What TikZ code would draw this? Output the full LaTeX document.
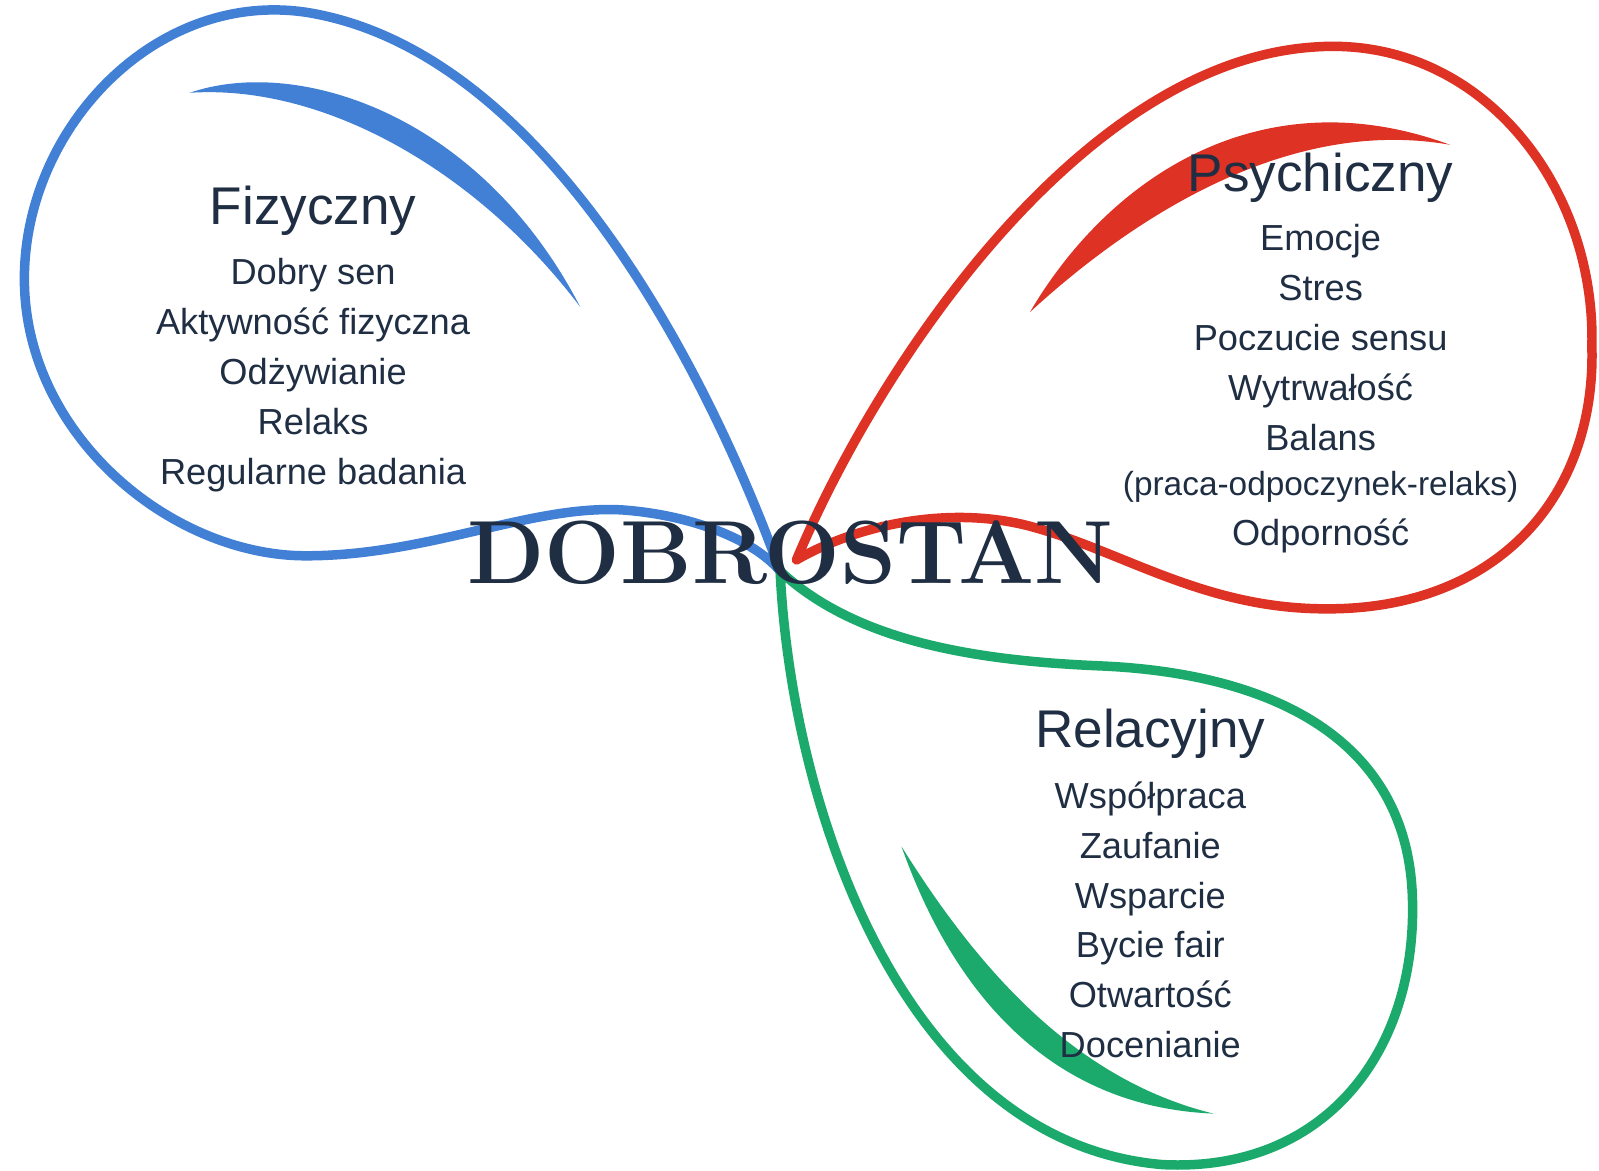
\documentclass[tikz,border=0pt]{standalone}
\usepackage{fontspec}
\newfontfamily\labelfont{Liberation Sans}
\usepackage{xcolor}
\usepackage{tikz}
\usetikzlibrary{positioning}

\definecolor{fizblue}{RGB}{65,128,213}
\definecolor{psyred}{RGB}{221,50,36}
\definecolor{relgreen}{RGB}{28,170,108}
\definecolor{navy}{RGB}{31,46,66}

\begin{document}
\begin{tikzpicture}[
        x=0.0102cm, y=-0.0102cm,
        petal/.style={line width=2.7pt, line join=round, line cap=round},
        headline/.style={font=\labelfont\fontsize{15.1}{18}\selectfont, text=navy, inner sep=0pt},
        entry/.style={font=\labelfont\fontsize{10.3}{14.2}\selectfont, text=navy, align=center, inner sep=0pt},
        brand/.style={font=\fontsize{25.5}{25.5}\selectfont\bfseries, text=navy, inner sep=0pt}
    ]
        \useasboundingbox (0,0) rectangle (1568,1148);

        % Centre point where the petals meet
        \coordinate (hub) at (765,560);
        \coordinate (redhub) at (781,549);

        % Blue petal
        \draw[petal, fizblue] (hub) .. controls (700,380) and (540,50) .. (300,12)
            .. controls (150,-10) and (20,130) .. (24,280)
            .. controls (28,430) and (170,545) .. (300,545)
            .. controls (420,545) and (520,495) .. (610,500)
            .. controls (680,505) and (740,530) .. (hub);
        \fill[fizblue] (186,91) .. controls (290,55) and (470,110) .. (569,301)
            .. controls (470,170) and (320,82) .. (186,91);

        % Red petal
        \draw[petal, psyred] (redhub) .. controls (860,360) and (1060,60) .. (1290,46)
            .. controls (1450,35) and (1565,180) .. (1561,340)
            .. controls (1565,490) and (1465,598) .. (1300,597)
            .. controls (1180,597) and (1100,540) .. (1010,516)
            .. controls (930,495) and (840,515) .. (redhub);
        \fill[psyred] (1010,306) .. controls (1090,170) and (1240,75) .. (1422,142)
            .. controls (1270,115) and (1120,205) .. (1010,306);

        % Green petal
        \draw[petal, relgreen] (hub) .. controls (775,780) and (880,1120) .. (1140,1142)
            .. controls (1300,1150) and (1390,1030) .. (1385,880)
            .. controls (1380,720) and (1240,660) .. (1080,653)
            .. controls (960,648) and (840,630) .. (hub);
        \fill[relgreen] (884,830) .. controls (930,960) and (1020,1085) .. (1190,1092)
            .. controls (1060,1060) and (965,960) .. (884,830);

        % Headlines and entries
        \node[headline] (fiz) at (307,207) {Fizyczny};
        \node[entry, below=6pt of fiz] (fizlist) {Dobry sen\\Aktywność fizyczna\\Odżywianie\\Relaks\\Regularne badania};

        \node[headline] (psy) at (1295,174) {Psychiczny};
        \node[entry, below=6pt of psy] (psylist) {Emocje\\Stres\\Poczucie sensu\\Wytrwałość\\Balans\\[-1.5pt]{\fontsize{9.5}{14.2}\selectfont(praca-odpoczynek-relaks)}\\Odporność};

        \node[headline] (rel) at (1128,720) {Relacyjny};
        \node[entry, below=6pt of rel] (rellist) {Współpraca\\Zaufanie\\Wsparcie\\Bycie fair\\Otwartość\\Docenianie};

        % Centre word
        \node[brand, anchor=base] (centre) at (775,572) {DOBROSTAN};
    \end{tikzpicture}
\end{document}
